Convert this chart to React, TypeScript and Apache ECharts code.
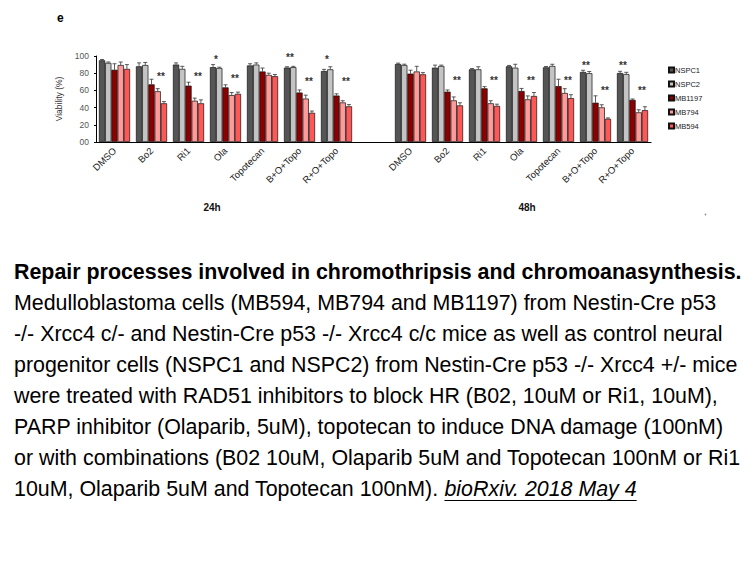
import React, { useEffect, useRef } from "react";
import * as echarts from "echarts";

const categories = ["DMSO", "Bo2", "Ri1", "Ola", "Topotecan", "B+O+Topo", "R+O+Topo", "", "DMSO", "Bo2", "Ri1", "Ola", "Topotecan", "B+O+Topo", "R+O+Topo"];
const seriesNames = ["NSPC1", "NSPC2", "MB1197", "MB794", "MB594"];
const seriesColors = ["#555555", "#c4c4c4", "#8b0000", "#ff9a9a", "#ff5656"];

const nspc1 = [95, 88, 90, 87, 89, 86.5, 82.5, null, 90.7, 86.4, 84.5, 88, 86.8, 81.4, 80.2];
const nspc2 = [92, 89.5, 85, 86, 90, 87, 84.5, null, 89.5, 88.4, 84.5, 86.4, 88.4, 80, 79];
const mb1197 = [84, 67, 65.5, 63.5, 82, 57.5, 54, null, 79.5, 58.5, 62.4, 59.3, 65, 45.7, 49];
const mb794 = [89.5, 59, 48, 54.5, 78, 50.5, 46, null, 82, 48.4, 45, 49.6, 57, 40.3, 34.5];
const mb594 = [85, 45, 45, 56, 76.5, 34, 41.5, null, 78.7, 42.6, 42, 53.5, 51, 27, 37];

const nspc1Err = [1, 4, 2, 3, 2, 1, 2, null, 1, 3, 1, 1, 1, 2, 2];
const nspc2Err = [1, 3, 3, 1, 2, 1, 3, null, 1, 1, 3, 4, 2, 2, 2];
const mb1197Err = [7, 6, 4, 3, 4, 3, 2, null, 4, 2, 2, 3, 8, 8, 1];
const mb794Err = [3.5, 3, 3, 3, 2, 4, 2, null, 6, 4, 3, 4, 5, 3, 3];
const mb594Err = [5, 2, 4, 2, 2, 2, 2, null, 2, 3, 2, 4, 4, 1, 4];

// significance marks: [category index, y position (value units), bar-pair offset, text]
const starCats = [1, 2, 3, 3, 5, 5, 6, 6, 9, 10, 11, 12, 13, 13, 14, 14];
const starY = [77, 77, 97, 75, 99, 71, 97, 71, 72, 72, 72, 72, 90, 60.5, 90, 60.5];
const starSide = [1.5, 1.5, -1.5, 1.5, -1.5, 1.5, -1.5, 1.5, 1.5, 1.5, 1.5, 1.5, -1.5, 1.5, -1.5, 1.5];
const starText = ["**", "**", "*", "**", "**", "**", "*", "**", "**", "**", "**", "**", "**", "**", "**", "**"];

const captionBold = "Repair processes involved in chromothripsis and chromoanasynthesis.";
const captionLines = [
  "Medulloblastoma cells (MB594, MB794 and MB1197) from Nestin-Cre p53",
  "-/- Xrcc4 c/- and Nestin-Cre p53 -/- Xrcc4 c/c mice as well as control neural",
  "progenitor cells (NSPC1 and NSPC2) from Nestin-Cre p53 -/- Xrcc4 +/- mice",
  "were treated with RAD51 inhibitors to block HR (B02, 10uM or Ri1, 10uM),",
  "PARP inhibitor (Olaparib, 5uM), topotecan to induce DNA damage (100nM)",
  "or with combinations (B02 10uM, Olaparib 5uM and Topotecan 100nM or Ri1",
];
const lastLinePlain = "10uM, Olaparib 5uM and Topotecan 100nM). ";
const lastLineCite = "bioRxiv. 2018 May 4";

const FONT = "Liberation Sans, Arial, Helvetica, sans-serif";
const CAP_SIZE = 21.4;
const CAP_X = 14;
const CAP_Y0 = 272;
const CAP_DY = 31;
const CAT_GAP = 0.16;

function measure(text: string, font: string): number {
  const c = document.createElement("canvas");
  const ctx = c.getContext("2d");
  if (!ctx) return text.length * 10;
  ctx.font = font;
  return ctx.measureText(text).width;
}

export default function App() {
  const ref = useRef<HTMLDivElement>(null);
  useEffect(() => {
    if (!ref.current) return;
    const chart = echarts.init(ref.current, null, { renderer: "svg" });
    const values = [nspc1, nspc2, mb1197, mb794, mb594];
    const errs = [nspc1Err, nspc2Err, mb1197Err, mb794Err, mb594Err];

    const errData: any[] = [];
    values.forEach((arr, s) => {
      arr.forEach((v, i) => {
        if (v != null) errData.push([i, v, errs[s][i], s]);
      });
    });
    const starData = starCats.map((c, i) => [c, starY[i], starSide[i], i]);

    const plainW = measure(lastLinePlain, `${CAP_SIZE}px ${FONT}`);
    const citeW = measure(lastLineCite, `italic ${CAP_SIZE}px ${FONT}`);
    const lastY = CAP_Y0 + 7 * CAP_DY;

    const graphics: any[] = [
      { type: "text", left: 57, top: 12, style: { text: "e", font: `bold 12px ${FONT}`, fill: "#000" } },
      { type: "text", x: 212, y: 207, style: { text: "24h", font: `bold 10px ${FONT}`, fill: "#111", textAlign: "center", textVerticalAlign: "middle" } },
      { type: "text", x: 527, y: 207, style: { text: "48h", font: `bold 10px ${FONT}`, fill: "#111", textAlign: "center", textVerticalAlign: "middle" } },
      { type: "circle", shape: { cx: 705.5, cy: 214.5, r: 0.8 }, style: { fill: "#888" } },
      { type: "text", x: CAP_X, y: CAP_Y0, style: { text: captionBold, font: `bold ${CAP_SIZE}px ${FONT}`, fill: "#000", textVerticalAlign: "middle" } },
    ];
    captionLines.forEach((t, i) => {
      graphics.push({ type: "text", x: CAP_X, y: CAP_Y0 + (i + 1) * CAP_DY, style: { text: t, font: `${CAP_SIZE}px ${FONT}`, fill: "#000", textVerticalAlign: "middle" } });
    });
    graphics.push({ type: "text", x: CAP_X, y: lastY, style: { text: lastLinePlain, font: `${CAP_SIZE}px ${FONT}`, fill: "#000", textVerticalAlign: "middle" } });
    graphics.push({ type: "text", x: CAP_X + plainW, y: lastY, style: { text: lastLineCite, font: `italic ${CAP_SIZE}px ${FONT}`, fill: "#000", textVerticalAlign: "middle" } });
    graphics.push({ type: "line", shape: { x1: CAP_X + plainW, y1: lastY + 11.5, x2: CAP_X + plainW + citeW, y2: lastY + 11.5 }, style: { stroke: "#000", lineWidth: 1 } });

    const barSeries = seriesNames.map((name, s) => ({
      name,
      type: "bar",
      data: values[s].map((v) => (v == null ? "-" : v)),
      barGap: "0%",
      barCategoryGap: `${CAT_GAP * 100}%`,
      itemStyle: { color: seriesColors[s], borderColor: "#111", borderWidth: 0.7 },
      z: 2,
    }));

    chart.setOption({
      animation: false,
      backgroundColor: "#fff",
      textStyle: { fontFamily: FONT },
      grid: { left: 96, right: 105, top: 56, bottom: 425, containLabel: false },
      legend: {
        data: seriesNames,
        orient: "vertical",
        left: 663,
        top: 61,
        itemWidth: 5,
        itemHeight: 5,
        itemGap: 6,
        icon: "rect",
        textStyle: { fontSize: 7.5, color: "#222", padding: [0, 0, 0, -4] },
      },
      xAxis: {
        type: "category",
        data: categories,
        axisLine: { lineStyle: { color: "#000", width: 1.2 } },
        axisTick: { show: false },
        axisLabel: { interval: 0, rotate: 45, fontSize: 9.5, color: "#222", margin: 7 },
      },
      yAxis: {
        type: "value",
        min: 0,
        max: 100,
        interval: 20,
        name: "Viability (%)",
        nameLocation: "middle",
        nameGap: 28,
        nameTextStyle: { fontSize: 8.5, color: "#333" },
        axisLine: { show: true, lineStyle: { color: "#000", width: 1 } },
        axisTick: { show: true, length: 2, lineStyle: { color: "#000" } },
        splitLine: { show: false },
        axisLabel: { fontSize: 8.5, color: "#555", margin: 7, formatter: (v: number) => (v === 0 ? "00" : String(v)) },
      },
      series: [
        ...barSeries,
        {
          type: "custom",
          name: "err",
          z: 3,
          silent: true,
          itemStyle: { color: "#333" },
          data: errData,
          encode: { x: 0, y: 1 },
          renderItem: (params: any, api: any) => {
            const cat = api.value(0);
            const v = api.value(1);
            const e = api.value(2);
            const s = api.value(3);
            const band = api.size([1, 0])[0];
            const bw = (band * (1 - CAT_GAP)) / 5;
            const base = api.coord([cat, v]);
            const top = api.coord([cat, v + e]);
            const x = base[0] + (s - 2) * bw;
            return {
              type: "group",
              children: [
                { type: "line", shape: { x1: x, y1: base[1], x2: x, y2: top[1] }, style: { stroke: "#333", lineWidth: 0.8 } },
                { type: "line", shape: { x1: x - 2, y1: top[1], x2: x + 2, y2: top[1] }, style: { stroke: "#333", lineWidth: 0.8 } },
              ],
            };
          },
        },
        {
          type: "custom",
          name: "stars",
          z: 4,
          silent: true,
          itemStyle: { color: "#333" },
          data: starData,
          encode: { x: 0, y: 1 },
          renderItem: (params: any, api: any) => {
            const cat = api.value(0);
            const y = api.value(1);
            const side = api.value(2);
            const idx = api.value(3);
            const band = api.size([1, 0])[0];
            const bw = (band * (1 - CAT_GAP)) / 5;
            const p = api.coord([cat, y]);
            return {
              type: "text",
              x: Math.round(p[0] + side * bw),
              y: Math.round(p[1]),
              style: {
                text: starText[idx],
                textAlign: "center",
                textVerticalAlign: "middle",
                font: `bold 10px ${FONT}`,
                fill: "#333",
              },
            };
          },
        },
      ],
      graphic: graphics,
    });
    return () => chart.dispose();
  }, []);
  return <div ref={ref} style={{ width: 756, height: 567, margin: -8 }} />;
}
